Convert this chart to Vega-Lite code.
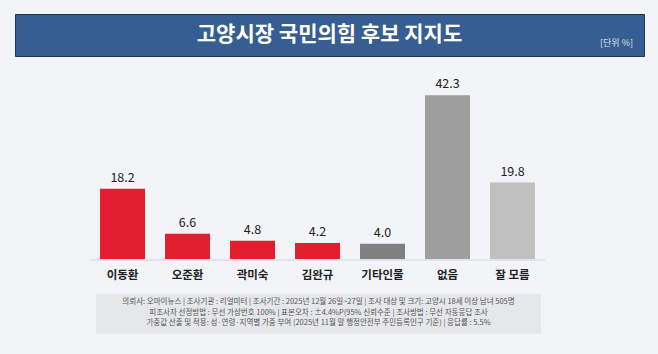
{
  "$schema": "https://vega.github.io/schema/vega-lite/v6.json",
  "background": "#f2f4f8",
  "padding": {"left": 14, "top": 13, "right": 15, "bottom": 22},
  "spacing": 0,
  "config": {"view": {"stroke": null}, "font": "Noto Sans CJK KR"},
  "vconcat": [
    {
      "width": 629,
      "height": 42,
      "view": {"fill": "#365e93", "stroke": "#22344d", "strokeWidth": 1},
      "data": {"values": [{"t": "고양시장 국민의힘 후보 지지도", "u": "[단위 %]"}]},
      "layer": [
        {
          "mark": {"type": "text", "fontSize": 21, "fontWeight": "bold", "color": "#ffffff", "baseline": "middle", "align": "center"},
          "encoding": {"text": {"field": "t", "type": "nominal"}}
        },
        {
          "mark": {"type": "text", "fontSize": 9, "color": "#d9e1ec", "align": "right", "baseline": "middle", "dx": -11, "dy": 8},
          "encoding": {"text": {"field": "u", "type": "nominal"}, "x": {"value": "width"}}
        }
      ]
    },
    {
      "width": 565,
      "height": 237,
      "data": {"values": [
        {"name": "이동환", "value": 18.2},
        {"name": "오준환", "value": 6.6},
        {"name": "곽미숙", "value": 4.8},
        {"name": "김완규", "value": 4.2},
        {"name": "기타인물", "value": 4.0},
        {"name": "없음", "value": 42.3},
        {"name": "잘 모름", "value": 19.8}
      ]},
      "layer": [
        {
          "mark": {"type": "bar"},
          "encoding": {
            "x": {"field": "name", "type": "nominal", "sort": null, "axis": null, "scale": {"paddingInner": 0.3077, "paddingOuter": 1, "align": 0.654}},
            "y": {"field": "value", "type": "quantitative", "axis": null, "scale": {"domain": [-8.95, 52.17], "nice": false, "zero": false}},
            "y2": {"datum": 0},
            "color": {
              "field": "name",
              "type": "nominal",
              "legend": null,
              "scale": {
                "domain": ["이동환", "오준환", "곽미숙", "김완규", "기타인물", "없음", "잘 모름"],
                "range": ["#e21f2f", "#e21f2f", "#e21f2f", "#e21f2f", "#808080", "#9e9e9e", "#c0c0c0"]
              }
            }
          }
        },
        {
          "mark": {"type": "bar", "color": "#e1e3e8", "width": {"band": 1.4444}},
          "encoding": {
            "x": {"field": "name", "type": "nominal", "sort": null},
            "y": {"datum": 0},
            "y2": {"datum": -0.45}
          }
        },
        {
          "mark": {"type": "text", "baseline": "alphabetic", "dy": -7, "fontSize": 12.5, "color": "#222222"},
          "encoding": {
            "x": {"field": "name", "type": "nominal", "sort": null},
            "y": {"field": "value", "type": "quantitative"},
            "text": {"field": "value", "type": "quantitative", "format": ".1f"}
          }
        },
        {
          "mark": {"type": "text", "baseline": "top", "dy": 11, "fontSize": 11.5, "fontWeight": "bold", "color": "#222222"},
          "encoding": {
            "x": {"field": "name", "type": "nominal", "sort": null},
            "y": {"datum": 0},
            "text": {"field": "name", "type": "nominal"}
          }
        }
      ]
    },
    {
      "spacing": 0,
      "hconcat": [
        {
          "width": 81,
          "height": 40,
          "data": {"values": [{"a": 1}]},
          "mark": {"type": "point", "opacity": 0},
          "encoding": {}
        },
        {
          "width": 445,
          "height": 40,
          "view": {"fill": "#e6e7ea"},
          "data": {"values": [{"t": "의뢰사: 오마이뉴스 | 조사기관 : 리얼미터 | 조사기간 : 2025년 12월 26일~27일 | 조사 대상 및 크기: 고양시 18세 이상 남녀 505명\n피조사자 선정방법 : 무선 가상번호 100% | 표본오차 : ±4.4%P(95% 신뢰수준 | 조사방법 : 무선 자동응답 조사\n가중값 산출 및 적용: 성·연령·지역별 가중 부여 (2025년 11월 말 행정안전부 주민등록인구 기준) | 응답률 : 5.5%"}]},
          "mark": {"type": "text", "fontSize": 7.5, "color": "#555555", "lineBreak": "\n", "lineHeight": 10.5, "align": "center", "baseline": "middle", "dy": -12},
          "encoding": {"text": {"field": "t", "type": "nominal"}}
        }
      ]
    }
  ]
}
